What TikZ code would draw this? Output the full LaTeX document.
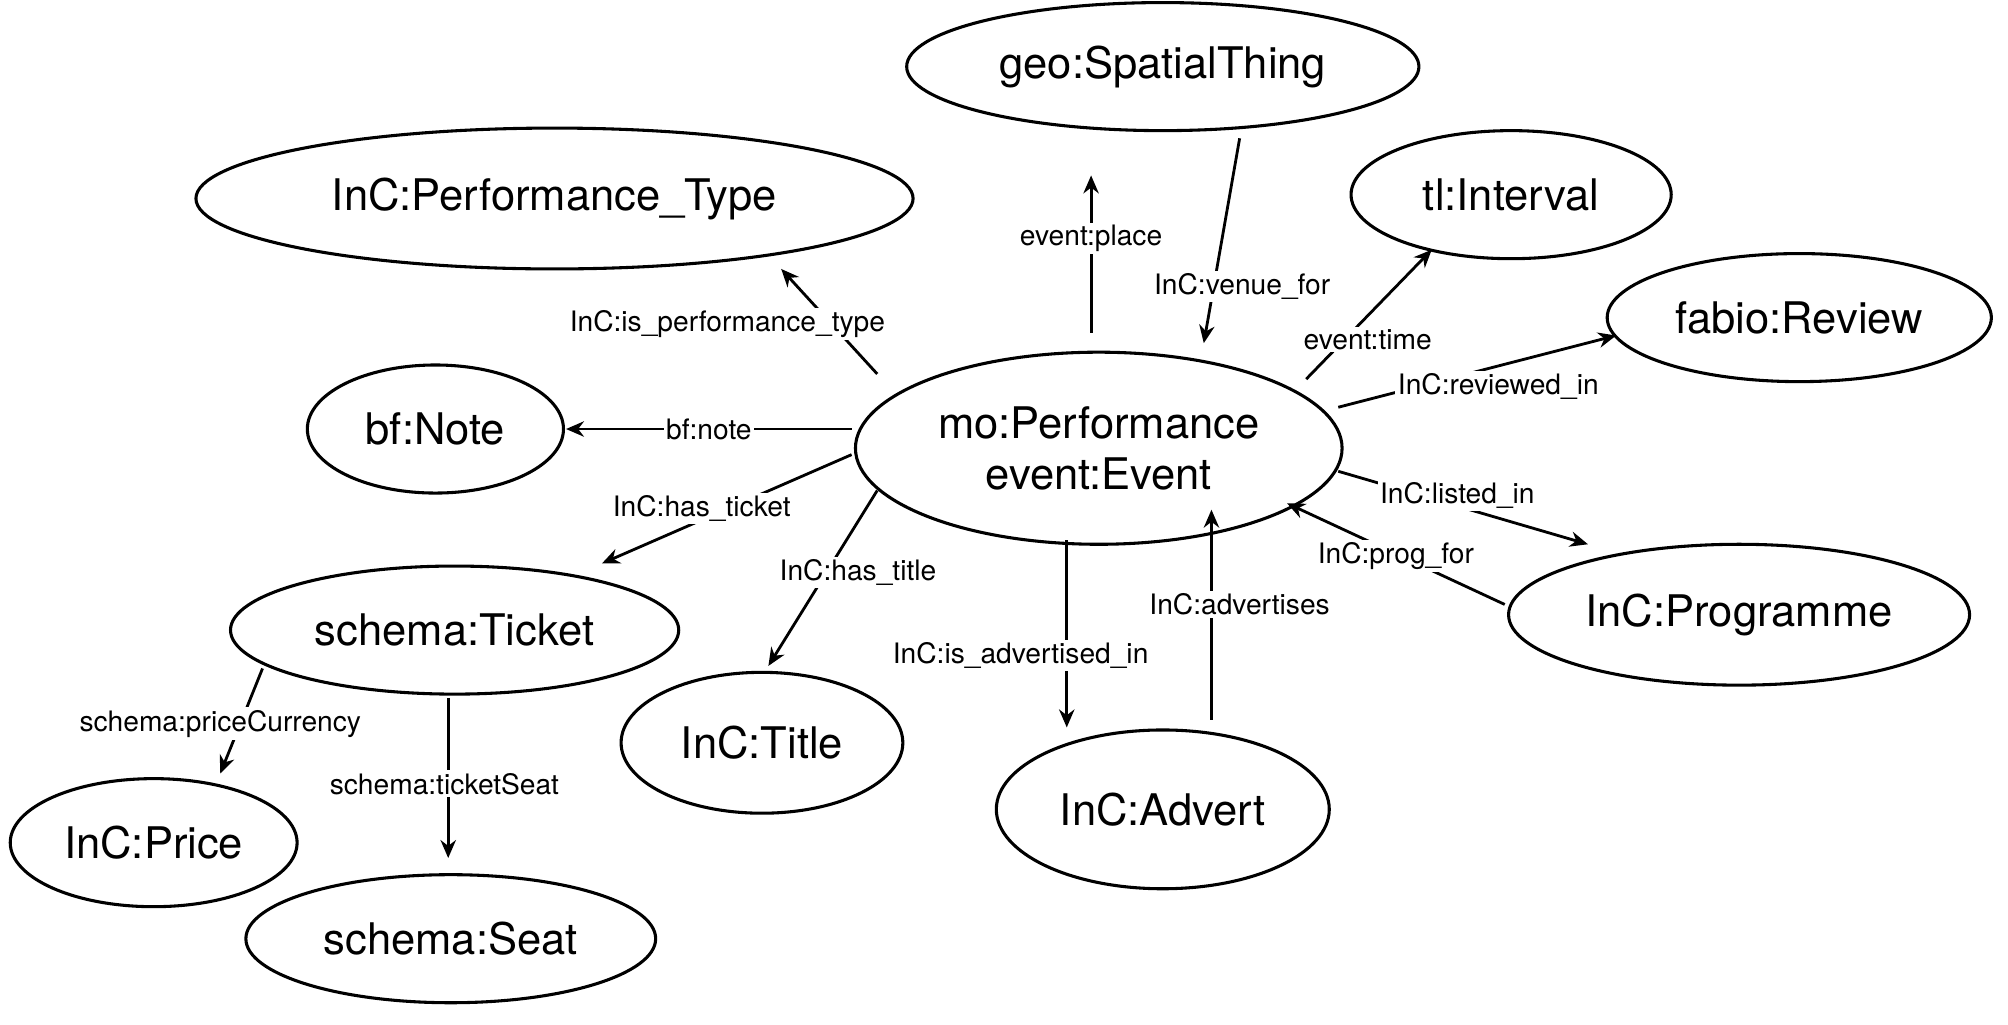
\documentclass[tikz,border=0pt]{standalone}
\usepackage{fontspec}
\setmainfont{TeX Gyre Heros}
\usetikzlibrary{shapes.geometric,arrows.meta}
\begin{document}
\begin{tikzpicture}[x=0.5pt,y=-0.5pt,
  ent/.style={ellipse,draw,line width=1.2pt,inner sep=0pt,font=\fontsize{17}{20}\selectfont,align=center},
  rel/.style={line width=1.1pt},
  arr/.style={rel,-{Stealth[length=7pt,width=6pt]}},
  lab/.style={fill=white,inner sep=1pt,font=\fontsize{11}{13}\selectfont}]
\useasboundingbox (0,0) rectangle (1568,800);
\node[ent,minimum width=200pt,minimum height=50pt] (geo) at (908,52) {geo:SpatialThing};
\node[ent,minimum width=280pt,minimum height=55pt] (ptype) at (433,155) {InC:Performance\_Type};
\node[ent,minimum width=125pt,minimum height=50pt] (tl) at (1180,152) {tl:Interval};
\node[ent,minimum width=150pt,minimum height=50pt] (fab) at (1405,248) {fabio:Review};
\node[ent,minimum width=100pt,minimum height=50pt] (note) at (340,335) {bf:Note};
\node[ent,minimum width=190pt,minimum height=75pt] (perf) at (858,350) {mo:Performance\\event:Event};
\node[ent,minimum width=175pt,minimum height=50pt] (tick) at (355,492) {schema:Ticket};
\node[ent,minimum width=180pt,minimum height=55pt] (prog) at (1358,480) {InC:Programme};
\node[ent,minimum width=110pt,minimum height=55pt] (title) at (595,580) {InC:Title};
\node[ent,minimum width=130pt,minimum height=62pt] (adv) at (908,632) {InC:Advert};
\node[ent,minimum width=112pt,minimum height=50pt] (price) at (120,658) {InC:Price};
\node[ent,minimum width=160pt,minimum height=50pt] (seat) at (352,733) {schema:Seat};
% endpoints
\coordinate (a1) at (852,260); \coordinate (b1) at (852,137);
\coordinate (a2) at (968,108); \coordinate (b2) at (940,268);
\coordinate (a3) at (1020,296); \coordinate (b3) at (1118,195);
\coordinate (a4) at (1045,318); \coordinate (b4) at (1262,262);
\coordinate (a5) at (685,292); \coordinate (b5) at (610,210);
\coordinate (a6) at (665,335); \coordinate (b6) at (442,335);
\coordinate (a7) at (665,355); \coordinate (b7) at (470,440);
\coordinate (a8) at (685,383); \coordinate (b8) at (600,520);
\coordinate (a9) at (833,422); \coordinate (b9) at (833,568);
\coordinate (a10) at (946,562); \coordinate (b10) at (946,398);
\coordinate (a11) at (1045,368); \coordinate (b11) at (1240,425);
\coordinate (a12) at (1175,472); \coordinate (b12) at (1005,393);
\coordinate (a13) at (205,522); \coordinate (b13) at (172,604);
\coordinate (a14) at (350,545); \coordinate (b14) at (350,670);
\draw[arr] (a1) -- node[lab,pos=0.6] (l1) {event:place} (b1);
\draw[arr] (a2) -- (b2);
\node[lab] (l2) at (970,224) {InC:venue\_for};
\draw[arr] (a3) -- (b3);
\node[lab] (l3) at (1068,265) {event:time};
\draw[arr] (a4) -- (b4);
\node[lab] (l4) at (1170,302) {InC:reviewed\_in};
\draw[arr] (a5) -- (b5);
\node[lab] (l5) at (568,253) {InC:is\_performance\_type};
\draw[arr] (a6) -- node[lab] (l6) {bf:note} (b6);
\draw[arr] (a7) -- (b7);
\node[lab] (l7) at (548,397) {InC:has\_ticket};
\draw[arr] (a8) -- (b8);
\node[lab] (l8) at (670,447) {InC:has\_title};
\draw[arr] (a9) -- (b9);
\node[lab] (l9) at (797,512) {InC:is\_advertised\_in};
\draw[arr] (a10) -- (b10);
\node[lab] (l10) at (968,472) {InC:advertises};
\draw[arr] (a11) -- (b11);
\node[lab] (l11) at (1138,387) {InC:listed\_in};
\draw[arr] (a12) -- (b12);
\node[lab] (l12) at (1090,434) {InC:prog\_for};
\draw[arr] (a13) -- (b13);
\node[lab] (l13) at (172,565) {schema:priceCurrency};
\draw[arr] (a14) -- (b14);
\node[lab] (l14) at (347,612) {schema:ticketSeat};
\end{tikzpicture}
\end{document}
